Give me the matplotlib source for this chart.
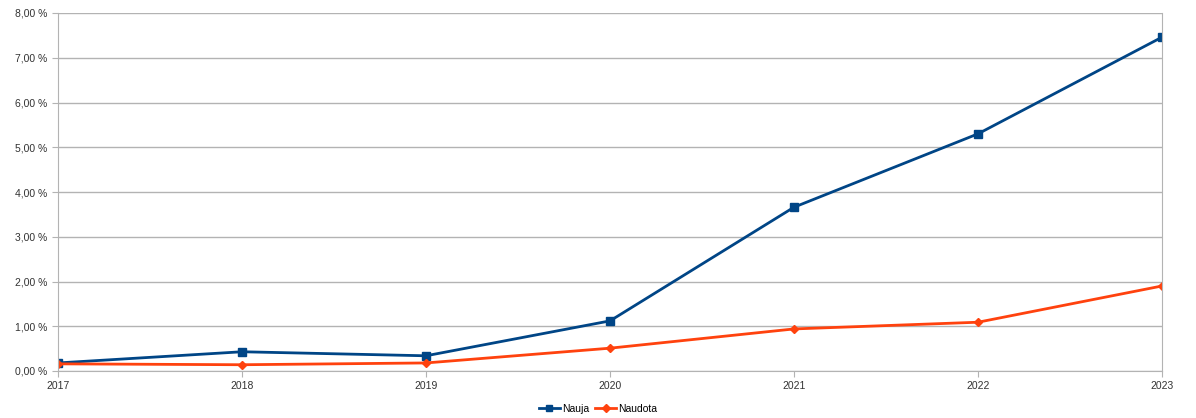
import matplotlib.pyplot as plt
from matplotlib.ticker import FuncFormatter

plt.rcParams['font.family'] = ['Liberation Sans', 'DejaVu Sans']

years = [2017, 2018, 2019, 2020, 2021, 2022, 2023]
nauja = [0.18, 0.43, 0.34, 1.12, 3.66, 5.30, 7.46]
naudota = [0.16, 0.14, 0.18, 0.51, 0.94, 1.09, 1.90]

W, H = 1196, 418
fig = plt.figure(figsize=(W / 100, H / 100), dpi=100)
ax = fig.add_axes([58 / W, (H - 371) / H, (1162 - 58) / W, (371 - 13) / H])

ax.plot(years, nauja, color='#004586', lw=2, marker='s', ms=6, label='Nauja')
ax.plot(years, naudota, color='#ff420e', lw=2, marker='D', ms=4.5, label='Naudota')

ax.set_xlim(2017, 2023)
ax.set_ylim(0, 8)
ax.set_xticks(years)
ax.set_yticks(range(0, 9))
ax.yaxis.set_major_formatter(FuncFormatter(lambda v, p: f'{v:.2f}'.replace('.', ',') + ' %'))
ax.grid(axis='y', color='#b3b3b3', lw=1)
ax.set_axisbelow(True)
ax.spines['top'].set_visible(False)
for s in ['left', 'right', 'bottom']:
    ax.spines[s].set_color('#b3b3b3')
ax.tick_params(colors='#b3b3b3', labelcolor='#333333', labelsize=7.5, length=4)

fig.legend(loc='lower center', bbox_to_anchor=(0.5, -0.012), ncol=2, frameon=False,
           fontsize=7.5, handlelength=2, columnspacing=0.6, handletextpad=0.2,
           markerscale=0.8)

fig.savefig('out.png', dpi=100)
